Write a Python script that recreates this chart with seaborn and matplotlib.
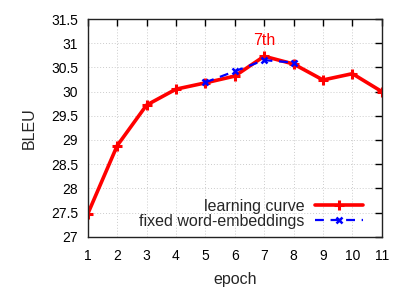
import matplotlib
matplotlib.use("Agg")
import matplotlib.pyplot as plt
import seaborn as sns
import pandas as pd

epochs = [1, 2, 3, 4, 5, 6, 7, 8, 9, 10, 11]
learning_curve = [27.47, 28.88, 29.72, 30.05, 30.18, 30.32, 30.73, 30.57, 30.24, 30.37, 30.0]
fixed_epochs = [5, 6, 7, 8]
fixed_embed = [30.19, 30.42, 30.65, 30.60]
yticks = [27, 27.5, 28, 28.5, 29, 29.5, 30, 30.5, 31, 31.5]
ytick_labels = ["27", "27.5", "28", "28.5", "29", "29.5", "30", "30.5", "31", "31.5"]

sns.set_theme(style="white")
plt.rcParams['font.family'] = ['Liberation Sans', 'DejaVu Sans']

fig = plt.figure(figsize=(4.11, 2.88), dpi=100)
ax = fig.add_axes([0.2134, 0.178, 0.7156, 0.756])

df1 = pd.DataFrame({"epoch": epochs, "BLEU": learning_curve})
df2 = pd.DataFrame({"epoch": fixed_epochs, "BLEU": fixed_embed})

sns.lineplot(data=df1, x="epoch", y="BLEU", ax=ax, color="#ff0000", linewidth=2.6,
             marker="+", markersize=7, markeredgewidth=2.2, markeredgecolor="#ff0000",
             label="learning curve", zorder=2)
sns.lineplot(data=df2, x="epoch", y="BLEU", ax=ax, color="#0000ff", linewidth=1.6,
             marker="x", markersize=5, markeredgewidth=1.8, markeredgecolor="#0000ff",
             linestyle=(0, (4, 3)), label="fixed word-embeddings", zorder=3)

ax.set_xlim(1, 11)
ax.set_ylim(27, 31.5)
ax.set_xticks(epochs)
ax.set_yticks(yticks)
ax.set_yticklabels(ytick_labels)
ax.tick_params(direction="in", length=5, width=1, top=True, right=True,
               labelsize=10, colors="black", pad=7)
ax.tick_params(axis="x", pad=9)
ax.grid(True, color="#cccccc", linestyle=(0, (1, 2)), linewidth=0.7)
for s in ax.spines.values():
    s.set_color("#222222")
    s.set_linewidth(1.0)

ax.set_xlabel("epoch", fontsize=11.5, labelpad=6)
ax.set_ylabel("BLEU", fontsize=11.5, labelpad=10)

ax.text(7, 30.9, "7th", color="#ff0000", fontsize=11.5, ha="center", va="bottom")

ax.legend(loc="lower right",
          bbox_to_anchor=(0.975, -0.015), frameon=False, markerfirst=False,
          fontsize=11.5, handlelength=3.0, handletextpad=0.7, labelspacing=0.0,
          borderpad=0.2)

fig.savefig("out.png", dpi=100)
